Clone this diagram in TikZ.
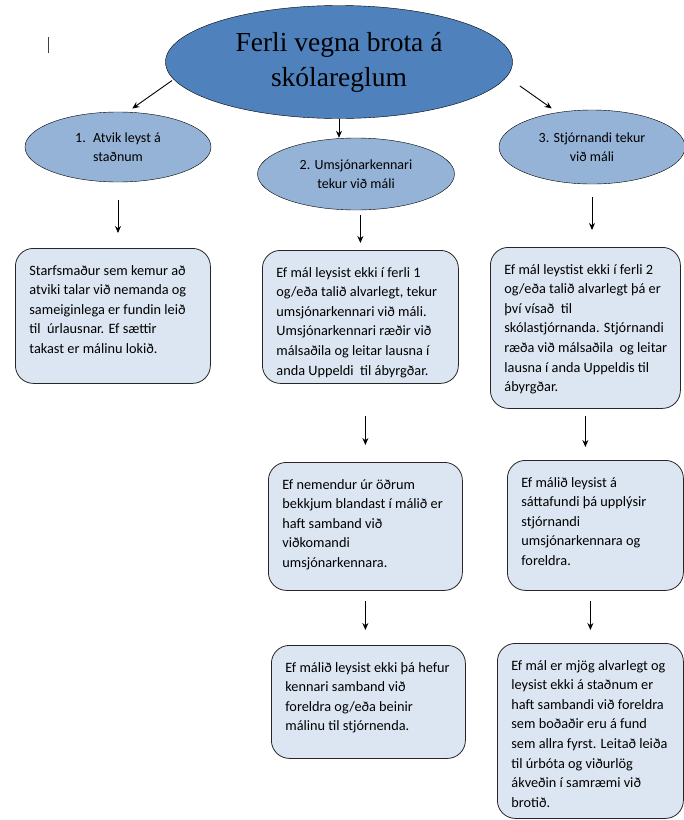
\documentclass[tikz,border=0pt]{standalone}
\usepackage{fontspec}
\usetikzlibrary{shapes.geometric, arrows.meta}
\setmainfont{Carlito}
\newfontfamily\titlefont{Liberation Serif}
\definecolor{titleblue}{HTML}{4F81BD}
\definecolor{stepblue}{HTML}{95B3D7}
\definecolor{notefill}{HTML}{DCE6F2}
\newcommand{\boxtxt}[3]{\parbox[t][#2][t]{#1}{\begin{tabular}[t]{@{}l@{}}#3\end{tabular}}}

\begin{document}
\begin{tikzpicture}[>={Stealth[length=7pt,width=6pt]}, x=1pt, y=-1pt,
    mainoval/.style={ellipse, draw, thin, fill=titleblue, minimum width=347pt, minimum height=113pt,
        align=center, font=\titlefont\fontsize{27.5}{35}\selectfont},
    stepoval/.style={ellipse, draw, thin, fill=stepblue, align=center, inner sep=0pt,
        font=\fontsize{14}{19}\selectfont},
    stepbox/.style={draw, thick, draw=black!85, rounded corners=18pt, fill=notefill, anchor=north west,
        inner xsep=14pt, inner ysep=13pt, font=\fontsize{14.3}{19.6}\selectfont},
    flow/.style={->, line width=0.9pt}]
    \useasboundingbox (0,0) rectangle (684,820);

    % Top of the chart
    \draw[line width=1pt, black!75] (48,37) -- (48,53);
    \node[mainoval] (head) at (339,62) {Ferli vegna brota á\\skólareglum};

    % The three ways
    \node[stepoval, minimum width=186pt, minimum height=70pt] (way1) at (118,147) {1. \ Atvik leyst á\\staðnum};
    \node[stepoval, minimum width=197pt, minimum height=72pt] (way2) at (356,174) {2. Umsjónarkennari\\tekur við máli};
    \node[stepoval, minimum width=186pt, minimum height=74pt] (way3) at (592,147) {3. Stjórnandi tekur\\við máli};

    % Steps below each way
    \node[stepbox] (step1) at (15,248) {\boxtxt{167pt}{109pt}{Starfsmaður sem kemur að\\atviki talar við nemanda og\\sameiginlega er fundin leið\\til \ úrlausnar. Ef sættir\\takast er málinu lokið.}};
    \node[stepbox] (step2) at (262,250) {\boxtxt{168pt}{107pt}{Ef mál leysist ekki í ferli 1\\og/eða talið alvarlegt, tekur\\umsjónarkennari við máli.\\Umsjónarkennari ræðir við\\málsaðila og leitar lausna í\\anda Uppeldi \ til ábyrgðar.}};
    \node[stepbox] (step3) at (490,247) {\boxtxt{162pt}{135pt}{Ef mál leystist ekki í ferli 2\\og/eða talið alvarlegt þá er\\því vísað \ til\\skólastjórnanda. Stjórnandi\\ræða við málsaðila \ og leitar\\lausna í anda Uppeldis til\\ábyrgðar.}};
    \node[stepbox] (step4) at (268,462) {\boxtxt{166pt}{102pt}{Ef nemendur úr öðrum\\bekkjum blandast í málið er\\haft samband við\\viðkomandi\\umsjónarkennara.}};
    \node[stepbox] (step5) at (507,460) {\boxtxt{148pt}{104pt}{Ef málið leysist á\\sáttafundi þá upplýsir\\stjórnandi\\umsjónarkennara og\\foreldra.}};
    \node[stepbox] (step6) at (271,645) {\boxtxt{166pt}{87pt}{Ef málið leysist ekki þá hefur\\kennari samband við\\foreldra og/eða beinir\\málinu til stjórnenda.}};
    \node[stepbox] (step7) at (497,643) {\boxtxt{158pt}{149pt}{Ef mál er mjög alvarlegt og\\leysist ekki á staðnum er\\haft sambandi við foreldra\\sem boðaðir eru á fund\\sem allra fyrst. Leitað leiða\\til úrbóta og viðurlög\\ákveðin í samræmi við\\brotið.}};

    % Arrows
    \draw[flow, shorten <=2pt, shorten >=6pt] (head.186) -- (way1.75);
    \draw[flow] (head.south) -- (head.south |- way2.north);
    \draw[flow, shorten <=16pt, shorten >=7pt] (head.355) -- (way3.135);
    \draw[flow, shorten <=18pt, shorten >=15pt] (way1.south) -- (way1.south |- step1.north);
    \draw[flow, shorten <=5pt, shorten >=7pt] (step2.north |- way2.south) -- (step2.north);
    \draw[flow, shorten <=13pt, shorten >=17pt] (way3.south) -- (way3.south |- step3.north);
    \draw[flow, shorten <=32pt, shorten >=17pt] (step4.north |- step2.south) -- (step4.north);
    \draw[flow, shorten <=7pt, shorten >=13pt] (step3.south) -- (step3.south |- step5.north);
    \draw[flow, shorten <=10pt, shorten >=15pt] (step4.south) -- (step4.south |- step6.north);
    \draw[flow, shorten <=10pt, shorten >=13pt] (step7.north |- step5.south) -- (step7.north);
\end{tikzpicture}
\end{document}
